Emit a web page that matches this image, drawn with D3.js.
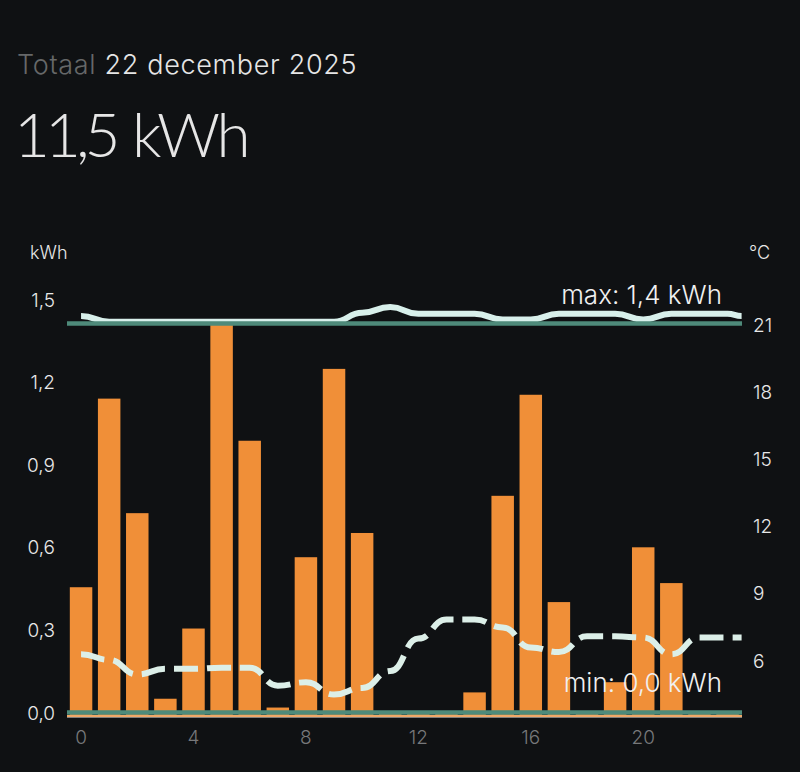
<!DOCTYPE html>
<html>
<head>
  <meta charset="utf-8">
  <script src="https://cdn.jsdelivr.net/npm/d3@7"></script>
  <style>
    html, body { margin: 0; background: #0f1113; }
    text { font-family: "Inter", sans-serif; font-weight: 300; }
  </style>
</head>
<body>
<div id="chart"></div>
<script>
  var hours = d3.range(24);
  var kwh = [0.455, 1.14, 0.724, 0.05, 0.305, 1.41, 0.987, 0.018, 0.564, 1.248, 0.652, 0,
             0, 0, 0.073, 0.787, 1.154, 0.401, 0, 0.11, 0.6, 0.47, 0, 0];

  // the temperature lines run on half an hour past the last bar
  var tempHours = hours.concat([23.5]);
  var tempHigh = [21.4, 21.15, 21.15, 21.15, 21.15, 21.15, 21.15, 21.15, 21.15, 21.15, 21.55, 21.8,
                  21.5, 21.5, 21.5, 21.25, 21.25, 21.5, 21.5, 21.5, 21.25, 21.5, 21.5, 21.5, 21.4];
  var tempLow = [6.3, 6.05, 5.4, 5.65, 5.65, 5.7, 5.7, 4.9, 5.05, 4.5, 4.8, 5.55,
                 7, 7.85, 7.85, 7.5, 6.6, 6.4, 7.1, 7.1, 7.05, 6.3, 7.05, 7.05, 7.05];

  var kwhTicks = [0, 0.3, 0.6, 0.9, 1.2, 1.5];
  var tempTicks = [6, 9, 12, 15, 18, 21];
  var hourTicks = [0, 4, 8, 12, 16, 20];
  var maxKwh = 1.413;

  var svg = d3.select('#chart').append('svg')
      .attr('width', 800)
      .attr('height', 772)
      .style('display', 'block');

  var x = d3.scaleBand().domain(hours).range([67, 741.6]).paddingInner(0.2).paddingOuter(0.1);
  var xCenter = function(h) { return 67 + (h + 0.5) * (741.6 - 67) / 24; };
  var yKwh = d3.scaleLinear().domain([0, 1.5]).range([712.5, 299.5]);
  var yTemp = d3.scaleLinear().domain([6, 21]).range([661, 325]);

  var comma = function(d) { return d3.format('.1f')(d).replace('.', ','); };

  // header
  var head = svg.append('text').attr('x', 17).attr('y', 74)
      .style('font-size', '27px').style('letter-spacing', '0.67px');
  head.append('tspan').attr('fill', '#666869').text('Totaal ');
  head.append('tspan').attr('fill', '#e6e6e6').text('22 december 2025');

  var total = svg.append('text').attr('y', 157)
      .attr('fill', '#e6e6e6')
      .style('font-family', 'Lato')
      .style('font-size', '62px').style('font-weight', 300);
  total.append('tspan').attr('x', 14).style('letter-spacing', '-5px').text('11,5');
  total.append('tspan').attr('x', 132).style('letter-spacing', '-3.5px').text('kWh');

  // axis line under the bars
  svg.append('line')
      .attr('x1', 67).attr('x2', 742)
      .attr('y1', 717).attr('y2', 717)
      .attr('stroke', '#f0f0ea').attr('stroke-width', 1);

  svg.selectAll('rect.bar').data(hours)
      .enter().append('rect')
      .attr('class', 'bar')
      .attr('x', function(h) { return x(h); })
      .attr('width', x.bandwidth())
      .attr('y', function(h) { return yKwh(kwh[h]); })
      .attr('height', function(h) { return yKwh(0) - yKwh(kwh[h]) + 4; })
      .attr('fill', '#f08f38');

  svg.append('rect')
      .attr('x', 67).attr('width', 675)
      .attr('y', 715).attr('height', 2)
      .attr('fill', '#f0a868');

  var line = d3.line()
      .x(function(d) { return xCenter(d[0]); })
      .y(function(d) { return yTemp(d[1]); })
      .curve(d3.curveBumpX);

  svg.append('path')
      .attr('d', line(d3.zip(tempHours, tempHigh)))
      .attr('fill', 'none')
      .attr('stroke', '#d8f0eb')
      .attr('stroke-width', 6);

  svg.append('path')
      .attr('d', line(d3.zip(tempHours, tempLow)))
      .attr('fill', 'none')
      .attr('stroke', '#dcefe8')
      .attr('stroke-width', 6)
      .attr('stroke-dasharray', '24 9');

  // max and min reference lines
  svg.selectAll('line.ref').data([maxKwh, 0])
      .enter().append('line')
      .attr('class', 'ref')
      .attr('x1', 67).attr('x2', 742)
      .attr('y1', function(d) { return yKwh(d); })
      .attr('y2', function(d) { return yKwh(d); })
      .attr('stroke', '#4e8a7a')
      .attr('stroke-width', 4.5);

  svg.append('text').attr('x', 722).attr('y', 304)
      .attr('text-anchor', 'end').attr('fill', '#f0f0f0')
      .style('font-size', '26px')
      .text('max: 1,4 kWh');
  svg.append('text').attr('x', 722).attr('y', 692)
      .attr('text-anchor', 'end').attr('fill', '#f0f0f0')
      .style('font-size', '26px')
      .text('min: 0,0 kWh');

  // axes
  var left = svg.append('g')
      .attr('transform', 'translate(55,0.5)')
      .call(d3.axisLeft(yKwh).tickValues(kwhTicks).tickFormat(comma).tickSize(0).tickPadding(0));
  var right = svg.append('g')
      .attr('transform', 'translate(753,0)')
      .call(d3.axisRight(yTemp).tickValues(tempTicks).tickSize(0).tickPadding(0));
  var bottom = svg.append('g')
      .attr('transform', 'translate(0,730)')
      .call(d3.axisBottom(x).tickValues(hourTicks).tickSize(0).tickPadding(0));

  left.selectAll('text').attr('fill', '#e8e8e8').style('font-size', '19px');
  right.selectAll('text').attr('fill', '#e8e8e8').style('font-size', '19px');
  bottom.selectAll('text').attr('fill', '#77787a').style('font-size', '19px');
  svg.selectAll('.domain').remove();

  svg.append('text').attr('x', 30).attr('y', 259)
      .attr('fill', '#e8e8e8').style('font-size', '18px').text('kWh');
  svg.append('text').attr('x', 749).attr('y', 259)
      .attr('fill', '#e8e8e8').style('font-size', '18px').text('°C');
</script>
</body>
</html>
